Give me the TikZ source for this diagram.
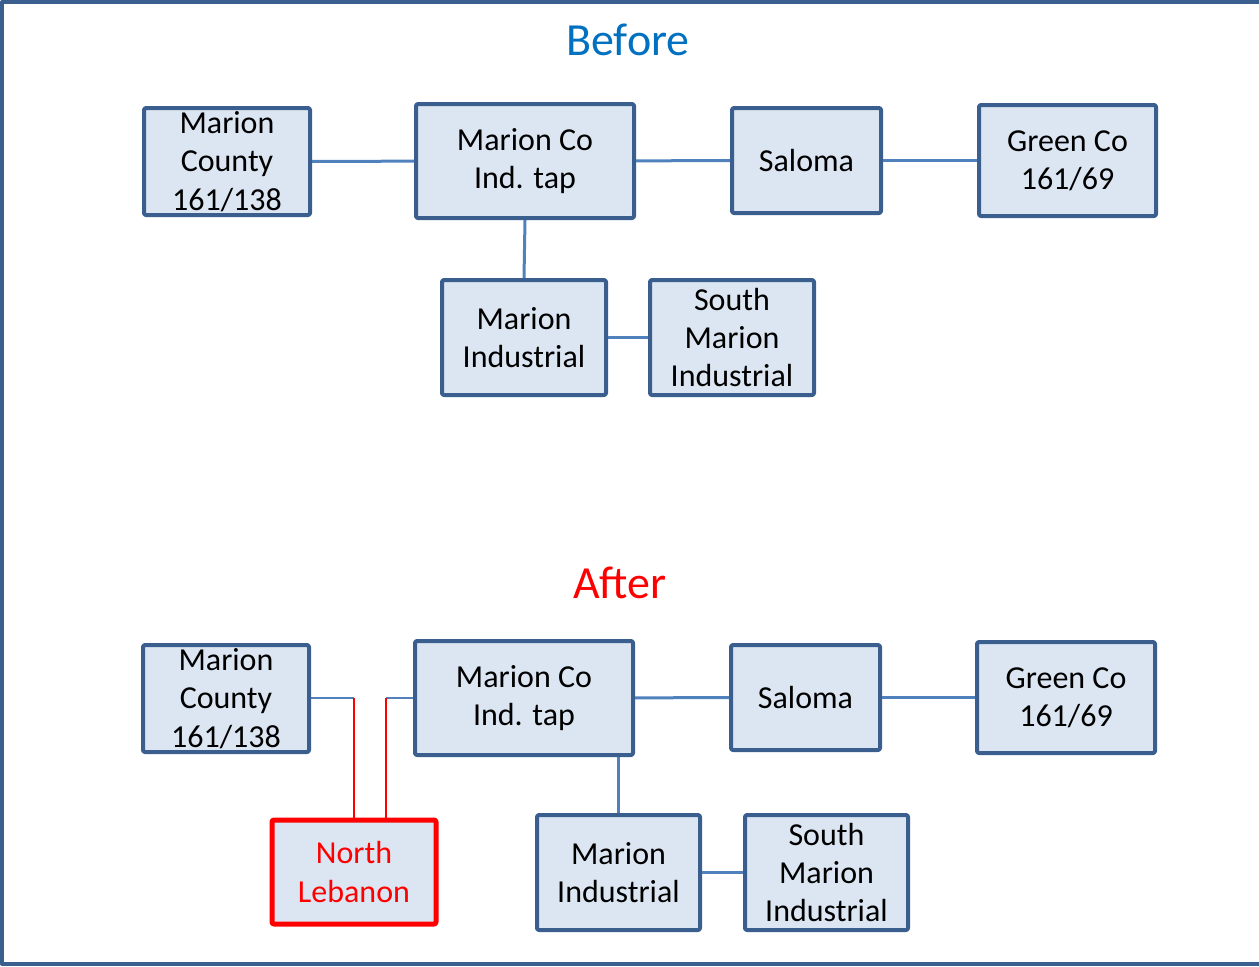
\documentclass[tikz,border=0pt]{standalone}
\usepackage{fontspec}
\setmainfont{Carlito}
\definecolor{boxfill}{RGB}{220,230,242}
\definecolor{boxline}{RGB}{58,95,143}
\definecolor{linkblue}{RGB}{79,129,189}
\definecolor{titleblue}{RGB}{0,112,192}
\tikzset{
  station/.style={draw=boxline, line width=2pt, fill=boxfill, rounded corners=1pt,
    align=center, inner sep=0pt, font=\fontsize{16}{19.2}\selectfont},
  newstation/.style={station, draw=red, line width=2.5pt, text=red},
  link/.style={draw=linkblue, line width=1.5pt},
  thinlink/.style={draw=linkblue, line width=0.7pt},
  redlink/.style={draw=red, line width=1pt},
  heading/.style={font=\fontsize{23}{27}\selectfont}
}
\begin{document}
\begin{tikzpicture}[x=0.5pt,y=-0.5pt,line join=round]

\useasboundingbox (0,0) rectangle (1259,966);
\draw[boxline, line width=2pt] (1259,2) -- (2,2) -- (2,964) -- (1259,964);

% before
\node[heading, text=titleblue] (before) at (628,40) {Before};

\node[station, minimum width=83pt, minimum height=53.5pt] (mcA) at (227,161.5) {Marion\\County\\161/138};
\node[station, minimum width=109pt, minimum height=57pt] (tapA) at (525,161) {Marion Co\\Ind. tap};
\node[station, minimum width=74.5pt, minimum height=52.5pt] (salA) at (806.5,160.5) {Saloma};
\node[station, minimum width=88.5pt, minimum height=55.5pt] (gcA) at (1067.5,160.5) {Green Co\\161/69};
\node[station, minimum width=82pt, minimum height=57.5pt] (miA) at (524,337.5) {Marion\\Industrial};
\node[station, minimum width=82pt, minimum height=57.5pt] (smiA) at (732,337.5) {South\\Marion\\Industrial};

\draw[link] (mcA) -- (tapA);
\draw[link] (tapA) -- (salA);
\draw[link] (salA) -- (gcA);
\draw[link] (tapA.south) -- (miA.north);
\draw[link] (miA) -- (smiA);

% after
\node[heading, text=red] (after) at (620,583) {After};

\node[station, minimum width=83pt, minimum height=53.5pt] (mcB) at (226,698.5) {Marion\\County\\161/138};
\node[station, minimum width=109pt, minimum height=57pt] (tapB) at (524,698) {Marion Co\\Ind. tap};
\node[station, minimum width=74.5pt, minimum height=52.5pt] (salB) at (805.5,697.5) {Saloma};
\node[station, minimum width=89pt, minimum height=55.5pt] (gcB) at (1066,697.5) {Green Co\\161/69};
\node[station, minimum width=81.5pt, minimum height=57.5pt] (miB) at (618.5,872.5) {Marion\\Industrial};
\node[station, minimum width=81.5pt, minimum height=57.5pt] (smiB) at (826.5,872.5) {South\\Marion\\Industrial};
\node[newstation, minimum width=82pt, minimum height=52pt] (nl) at (354,872) {North\\Lebanon};

\coordinate (cutL) at (353.5,698);
\coordinate (cutR) at (386,698);

\draw[thinlink] (mcB.east |- cutL) -- (cutL);
\draw[thinlink] (cutR) -- (tapB.west |- cutR);
\draw[redlink] (cutL) -- (cutL |- nl.north);
\draw[redlink] (cutR) -- (cutR |- nl.north);
\draw[link] (tapB) -- (salB);
\draw[link] (salB) -- (gcB);
\draw[link] (tapB.south -| miB.north) -- (miB.north);
\draw[link] (miB) -- (smiB);

\end{tikzpicture}
\end{document}
